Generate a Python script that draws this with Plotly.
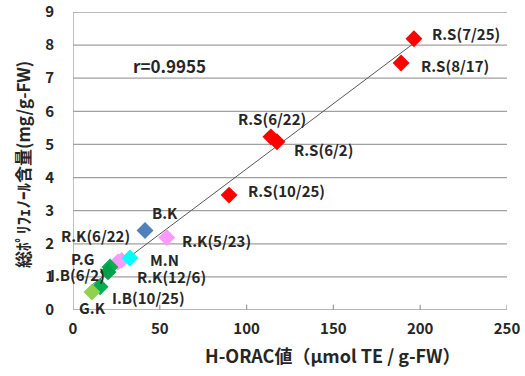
import numpy as np
import plotly.graph_objects as go

# ---- data ----
labels = ["R.S(7/25)", "R.S(8/17)", "R.S(6/22)", "R.S(6/2)", "R.S(10/25)",
          "B.K", "R.K(5/23)", "R.K(6/22)", "R.K(12/6)", "M.N",
          "P.G", "I.B(6/2)", "I.B(10/25)", "G.K"]
h_orac = [196.4, 189.0, 114.0, 117.5, 89.9,
          41.5, 54.0, 28.0, 25.9, 32.8,
          21.3, 20.2, 15.6, 10.9]
polyphenol = [8.19, 7.46, 5.23, 5.08, 3.47,
              2.40, 2.19, 1.50, 1.45, 1.57,
              1.30, 1.15, 0.70, 0.54]
groups = ["R.S", "R.S", "R.S", "R.S", "R.S",
          "B.K", "R.K", "R.K", "R.K", "M.N",
          "P.G", "I.B", "I.B10", "G.K"]
group_colors = {"R.S": "#FF0000", "B.K": "#4F81BD", "R.K": "#FF99FF",
                "M.N": "#00FFFF", "P.G": "#00B050", "I.B": "#00A04A",
                "I.B10": "#00B050", "G.K": "#92D050"}
x_ticks = [0, 50, 100, 150, 200, 250]
y_ticks = [0, 1, 2, 3, 4, 5, 6, 7, 8, 9]
r_text = "r=0.9955"

label_pos = {
    "R.S(7/25)": ("left", 16, 5),
    "R.S(8/17)": ("left", 18, -3),
    "R.S(6/22)": ("center", 1, 18),
    "R.S(6/2)": ("left", 15, -8),
    "R.S(10/25)": ("left", 17, 5),
    "B.K": ("center", 20, 18),
    "R.K(5/23)": ("left", 13, -3),
    "R.K(6/22)": ("center", -26, 25),
    "R.K(12/6)": ("left", 17, -15),
    "M.N": ("left", 18, -1),
    "P.G": ("center", -27, 8),
    "I.B(6/2)": ("center", -31, -3),
    "I.B(10/25)": ("left", 10, -11),
    "G.K": ("center", 1, -15),
}

FONT = "Noto Sans CJK JP"
GRID = "#A0A0A0"
XMAX, YMAX = x_ticks[-1], y_ticks[-1]
fig = go.Figure()

# gridlines, axis lines and x tick marks as layout shapes in data coordinates
for v in y_ticks:
    fig.add_shape(type="line", xref="x", yref="y", x0=0, x1=XMAX, y0=v, y1=v,
                  layer="below", line=dict(color=GRID, width=1.3))
fig.add_shape(type="line", xref="x", yref="y", x0=0, x1=0, y0=0, y1=YMAX,
              layer="below", line=dict(color=GRID, width=1.3))
for v in x_ticks[1:]:
    fig.add_shape(type="line", xref="x", yref="y", x0=v, x1=v, y0=0, y1=0.16,
                  layer="below", line=dict(color=GRID, width=1.3))

slope, intercept = np.polyfit(h_orac, polyphenol, 1)
xl = np.array([min(h_orac), max(h_orac)])
fig.add_trace(go.Scatter(x=xl, y=slope * xl + intercept, mode="lines",
                         line=dict(color="#595959", width=1), showlegend=False,
                         hoverinfo="skip"))

order = ["R.S", "B.K", "R.K", "M.N", "P.G", "I.B", "I.B10", "G.K"]
for g in order:
    idx = [i for i, gg in enumerate(groups) if gg == g]
    fig.add_trace(go.Scatter(
        x=[h_orac[i] for i in idx], y=[polyphenol[i] for i in idx],
        mode="markers", showlegend=False,
        marker=dict(symbol="diamond", size=13, color=group_colors[g],
                    line=dict(width=0)),
        text=[labels[i] for i in idx]))

for lab, xv, yv in zip(labels, h_orac, polyphenol):
    anc, dx, dy = label_pos[lab]
    fig.add_annotation(x=xv, y=yv, text=f"<b>{lab}</b>", showarrow=False,
                       xanchor=anc, yanchor="middle", xshift=dx, yshift=dy,
                       font=dict(family=FONT, size=15, color="#262626"))

W, H = 525, 376
l, r, t, b = 73, 18, 12, 66
def px_to_paper(px, py):
    return (px - l) / (W - l - r), 1 - (py - t) / (H - t - b)

rx, ry = px_to_paper(169, 66)
fig.add_annotation(x=rx, y=ry, xref="paper", yref="paper", text=f"<b>{r_text}</b>",
                   showarrow=False, xanchor="center", yanchor="middle",
                   font=dict(family=FONT, size=17, color="#262626"))

tx, ty = px_to_paper(333, 355)
fig.add_annotation(x=tx, y=ty, xref="paper", yref="paper",
                   text="<b>H-ORAC値（μmol TE / g-FW）</b>", showarrow=False,
                   xanchor="center", yanchor="middle",
                   font=dict(family=FONT, size=18, color="#262626"))
yx, yy = px_to_paper(22, 165)
fig.add_annotation(x=yx, y=yy, xref="paper", yref="paper", textangle=-90,
                   text="<b>総ﾎﾟﾘﾌｪﾉｰﾙ含量(mg/g-FW)</b>", showarrow=False,
                   xanchor="center", yanchor="middle",
                   font=dict(family=FONT, size=17, color="#262626"))

fig.update_layout(
    template="none",
    width=W, height=H,
    margin=dict(l=l, r=r, t=t, b=b, pad=0),
    paper_bgcolor="white", plot_bgcolor="white",
    font=dict(family=FONT, color="#262626"),
    xaxis=dict(range=[0, XMAX], tickvals=x_ticks, ticktext=[f"<b>{v}</b>" for v in x_ticks],
               automargin=False, showgrid=False, zeroline=False, showline=False,
               ticks="", tickfont=dict(family=FONT, size=15, color="#262626"),
               ticklabelstandoff=8),
    yaxis=dict(range=[0, YMAX], tickvals=y_ticks, ticktext=[f"<b>{v}</b>" for v in y_ticks],
               automargin=False, showgrid=False, zeroline=False, showline=False,
               ticks="", tickfont=dict(family=FONT, size=15, color="#262626"),
               ticklabelstandoff=18),
)

fig.write_html("out.html", config={"responsive": False})
